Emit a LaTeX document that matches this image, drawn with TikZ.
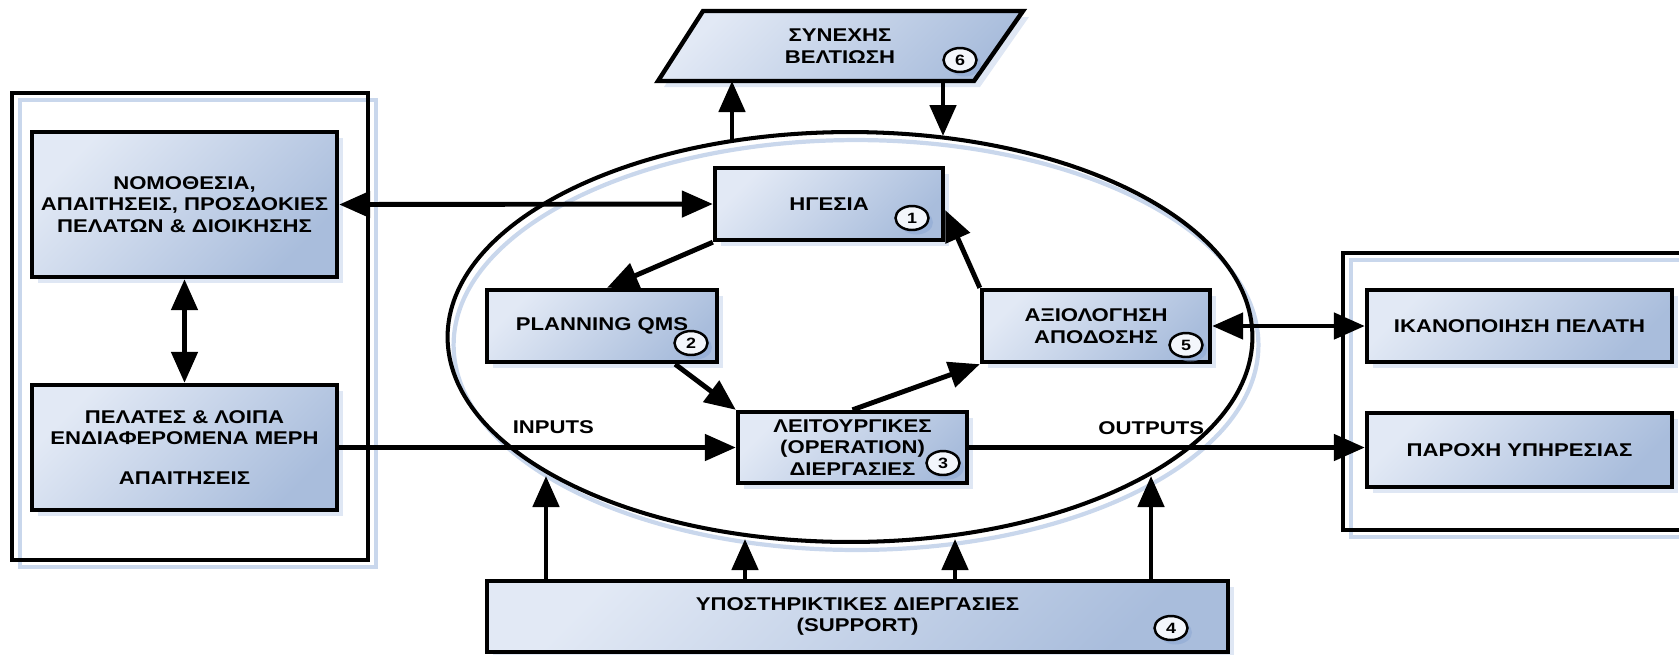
\documentclass[tikz,border=0pt]{standalone}
\usepackage{fontspec}
\setmainfont{Liberation Sans}[FakeStretch=1.2]
\usetikzlibrary{arrows.meta,shadows,shapes.geometric,calc}

\definecolor{boxlight}{HTML}{E2E9F5}
\definecolor{boxdark}{HTML}{A9BDDC}
\definecolor{shadowblue}{HTML}{C9D7EC}
\definecolor{numshade}{HTML}{8FA9D4}

\begin{document}
\begin{tikzpicture}[
   x = 0.02cm, y = -0.02cm,
   every node/.style = {font=\bfseries\fontsize{10.5}{12.3}\selectfont, align=center},
   block/.style = {draw, line width=2.5pt, inner sep=0pt,
      top color=boxlight, bottom color=boxdark, shading angle=45,
      drop shadow={shadow xshift=0.12cm, shadow yshift=-0.12cm,
         fill=shadowblue, opacity=0.6}},
   frame/.style = {draw, line width=2.2pt, inner sep=0pt,
      drop shadow={shadow xshift=0.16cm, shadow yshift=-0.14cm,
         fill=none, draw=shadowblue, line width=1.8pt, opacity=1}},
   num/.style = {ellipse, draw, line width=1.4pt, fill=white!60!boxlight,
      minimum width=0.66cm, minimum height=0.48cm, inner sep=0pt,
      font=\bfseries\fontsize{8.5}{8.5}\selectfont,
      drop shadow={shadow xshift=0.09cm, shadow yshift=-0.09cm,
         fill=numshade, opacity=0.6}},
   arr/.style = {line width=2.8pt, -{Triangle[length=0.62cm, width=0.52cm]}},
   dbl/.style = {line width=2.8pt,
      {Triangle[length=0.62cm, width=0.52cm]}-{Triangle[length=0.62cm, width=0.52cm]}},
]
   \useasboundingbox (0,0) rectangle (1679,654);
   % frames
   \node[frame, minimum width=7.12cm, minimum height=9.34cm] (stake) at (190,326.5) {};
   \node[frame, minimum width=7.34cm, minimum height=5.54cm] (result) at (1526.5,391.5) {};
   % process ellipse
   \node[ellipse, draw, line width=2.3pt, minimum width=16.1cm, minimum height=8.2cm,
      drop shadow={shadow xshift=0.12cm, shadow yshift=-0.16cm,
         fill=none, draw=shadowblue, line width=2.4pt, opacity=1}] (qms) at (850,337) {};
   % left side
   \node[block, minimum width=6.1cm, minimum height=2.9cm] (nomo) at (184.5,204.5)
      {ΝΟΜΟΘΕΣΙΑ,\\ ΑΠΑΙΤΗΣΕΙΣ, ΠΡΟΣΔΟΚΙΕΣ\\ ΠΕΛΑΤΩΝ \& ΔΙΟΙΚΗΣΗΣ};
   \node[block, minimum width=6.1cm, minimum height=2.5cm] (pelates) at (184.5,447.5)
      {ΠΕΛΑΤΕΣ \& ΛΟΙΠΑ\\ ΕΝΔΙΑΦΕΡΟΜΕΝΑ ΜΕΡΗ\\[0.36cm] ΑΠΑΙΤΗΣΕΙΣ};
   % cycle
   \node[block, minimum width=4.56cm, minimum height=1.44cm] (hgesia) at (829,204) {ΗΓΕΣΙΑ};
   \node[block, minimum width=4.6cm, minimum height=1.44cm] (planning) at (602,326) {PLANNING QMS};
   \node[block, minimum width=4.58cm, minimum height=1.42cm] (leit) at (852.5,447.5)
      {ΛΕΙΤΟΥΡΓΙΚΕΣ\\ (OPERATION)\\ ΔΙΕΡΓΑΣΙΕΣ};
   \node[block, minimum width=4.56cm, minimum height=1.44cm] (axiol) at (1096,326)
      {ΑΞΙΟΛΟΓΗΣΗ\\ ΑΠΟΔΟΣΗΣ};
   % right side
   \node[block, minimum width=6.1cm, minimum height=1.44cm] (ikan) at (1519.5,326) {ΙΚΑΝΟΠΟΙΗΣΗ ΠΕΛΑΤΗ};
   \node[block, minimum width=6.1cm, minimum height=1.48cm] (paroxi) at (1519.5,450) {ΠΑΡΟΧΗ ΥΠΗΡΕΣΙΑΣ};
   % support
   \node[block, minimum width=14.82cm, minimum height=1.42cm] (support) at (857.5,616.5)
      {ΥΠΟΣΤΗΡΙΚΤΙΚΕΣ ΔΙΕΡΓΑΣΙΕΣ\\ (SUPPORT)};
   % improvement
   \draw[line width=2.5pt, top color=boxlight, bottom color=boxdark, shading angle=45,
      drop shadow={shadow xshift=0.12cm, shadow yshift=-0.12cm, fill=shadowblue, opacity=0.6}]
      (658,81) -- (703,11) -- (1023,11) -- (974,81) -- cycle;
   \node (kaiz) at (840,46) {ΣΥΝΕΧΗΣ\\ ΒΕΛΤΙΩΣΗ};
   % numbers
   \node[num] (n1) at (912,218) {1};
   \node[num] (n2) at (691,343) {2};
   \node[num] (n3) at (943,463) {3};
   \node[num] (n4) at (1171,628) {4};
   \node[num] (n5) at (1186,345) {5};
   \node[num] (n6) at (960,60) {6};
   % points on the ellipse and the parallelogram
   \coordinate (kb1) at (732,81);
   \coordinate (kb2) at (943,81);
   \coordinate (top1) at (732,141);
   \coordinate (top2) at (943,136);
   \coordinate (bot1) at (546,476);
   \coordinate (bot2) at (745,539);
   \coordinate (bot3) at (955,539);
   \coordinate (bot4) at (1151,476);
   % connectors
   \draw[dbl] (nomo.east) -- (hgesia.west);
   \draw[dbl] (nomo.south) -- (pelates.north);
   \draw[arr] (hgesia.south west) -- ([xshift=0.1cm]planning.north);
   \draw[arr] ([xshift=-0.88cm]planning.south east) -- (leit.north west);
   \draw[arr] (leit.north) -- (axiol.south west);
   \draw[arr] (axiol.north west) -- ([yshift=-0.12cm]hgesia.east);
   \draw[arr] (pelates.east) -- (leit.west)
      node[pos=0.54, above=0.12cm] (inputs) {INPUTS};
   \draw[arr] (leit.east) -- (leit.east -| paroxi.west)
      node[pos=0.46, above=0.1cm] (outputs) {OUTPUTS};
   \draw[dbl] (axiol.east) -- (ikan.west);
   \draw[arr] (top1) -- (kb1);
   \draw[arr] (kb2) -- (top2);
   \foreach \p in {bot1,bot2,bot3,bot4}
      \draw[arr] (\p |- support.north) -- (\p);
\end{tikzpicture}
\end{document}
